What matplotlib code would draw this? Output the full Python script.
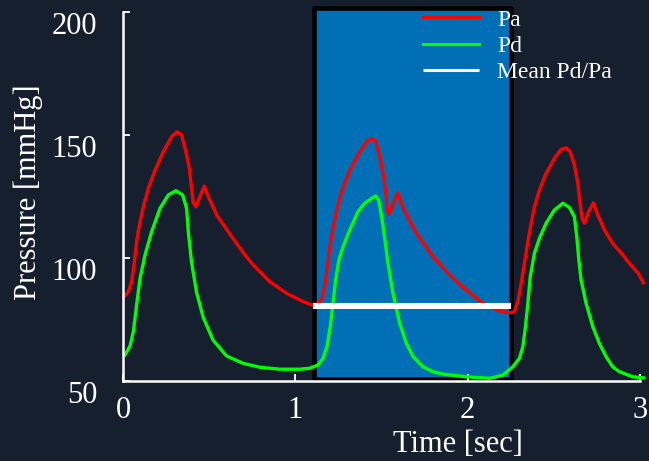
import matplotlib
matplotlib.use("Agg")
import matplotlib.pyplot as plt
from matplotlib.patches import Rectangle

# ---- data ----
pa_time = [0.006, 0.031, 0.050, 0.064, 0.079, 0.095, 0.118, 0.147, 0.186, 0.234, 0.282, 0.315,
           0.340, 0.365, 0.385, 0.398, 0.408, 0.423, 0.446, 0.472, 0.495, 0.544, 0.611, 0.708,
           0.756, 0.852, 0.949, 1.045, 1.100, 1.132, 1.155, 1.172, 1.186, 1.200, 1.217, 1.240,
           1.268, 1.316, 1.374, 1.414, 1.443, 1.468, 1.490, 1.513, 1.526, 1.533, 1.544, 1.565,
           1.594, 1.625, 1.666, 1.703, 1.799, 1.896, 1.992, 2.089, 2.166, 2.234, 2.253, 2.272,
           2.292, 2.311, 2.330, 2.350, 2.369, 2.388, 2.417, 2.456, 2.504, 2.543, 2.572, 2.595,
           2.620, 2.640, 2.653, 2.665, 2.678, 2.703, 2.730, 2.756, 2.795, 2.842, 2.894, 2.939,
           2.991, 3.020]
pa_values = [84.3, 86.3, 90.4, 97.2, 106.7, 113.5, 120.9, 128.4, 135.8, 143.3, 149.4, 151.4,
             150.1, 143.3, 136.5, 128.4, 122.3, 120.9, 125.0, 129.3, 125.0, 117.5, 110.7, 101.3,
             97.2, 90.4, 85.7, 82.3, 80.8, 81.6, 83.6, 89.1, 96.5, 104.6, 111.4, 119.6,
             127.0, 135.8, 143.3, 147.4, 148.7, 147.4, 141.3, 133.1, 126.3, 120.2, 117.8, 121.6,
             126.4, 120.6, 114.8, 110.1, 100.6, 93.1, 87.0, 81.6, 78.9, 77.8, 77.8, 78.2,
             82.3, 89.7, 97.9, 106.7, 114.2, 120.9, 127.7, 134.5, 140.6, 144.2, 144.9, 143.3,
             137.9, 130.4, 122.3, 116.2, 114.2, 118.9, 122.5, 117.5, 111.4, 106.0, 101.9, 97.9,
             93.8, 90.0]

pd_time = [0.012, 0.041, 0.060, 0.079, 0.099, 0.128, 0.166, 0.215, 0.263, 0.307, 0.346, 0.369,
           0.379, 0.398, 0.427, 0.466, 0.523, 0.601, 0.697, 0.794, 0.910, 1.026, 1.084, 1.132,
           1.161, 1.184, 1.203, 1.219, 1.234, 1.253, 1.277, 1.316, 1.364, 1.403, 1.443, 1.467,
           1.484, 1.498, 1.513, 1.538, 1.567, 1.606, 1.645, 1.684, 1.741, 1.799, 1.857, 1.992,
           2.128, 2.205, 2.263, 2.301, 2.321, 2.336, 2.350, 2.364, 2.388, 2.417, 2.456, 2.504,
           2.553, 2.591, 2.620, 2.634, 2.646, 2.659, 2.688, 2.727, 2.765, 2.804, 2.842, 2.881,
           2.959, 3.020]
pd_values = [60.6, 64.3, 70.1, 80.9, 91.8, 101.3, 110.7, 120.3, 125.7, 127.4, 125.7, 120.3,
             110.7, 98.2, 86.0, 75.8, 66.6, 60.2, 57.2, 55.6, 54.8, 54.8, 55.2, 56.5,
             59.2, 64.0, 72.1, 81.6, 91.1, 99.2, 104.6, 111.4, 118.9, 122.3, 124.3, 125.3,
             123.6, 118.2, 111.4, 97.9, 85.7, 73.5, 65.3, 59.9, 55.8, 53.8, 52.8, 51.7,
             51.1, 52.4, 55.8, 59.2, 64.0, 72.1, 81.6, 92.4, 102.0, 108.0, 114.2, 119.6,
             122.3, 120.6, 116.8, 108.7, 99.2, 91.1, 81.6, 72.1, 65.3, 59.9, 55.8, 53.8,
             51.7, 51.3]

window_start = 1.10
window_end = 2.25
mean_level = 80.5

y_ticks = [50, 100, 150, 200]
x_ticks = [0, 1, 2, 3]

BG = "#161f2d"
FONT = ["Liberation Serif", "DejaVu Serif"]
plt.rcParams["font.family"] = FONT

fig = plt.figure(figsize=(6.49, 4.61), dpi=100, facecolor=BG)
ax = fig.add_axes([123 / 649, 80 / 461, 522 / 649, 368.7 / 461])
ax.set_facecolor(BG)

# highlighted window
rect = Rectangle((1.109, 50.9), 2.252 - 1.109, 201.6 - 50.9, facecolor="#006fb6",
                 edgecolor="black", linewidth=3.3, joinstyle="round", zorder=1, clip_on=False)
ax.add_patch(rect)

ax.plot(pa_time, pa_values, color="#ff0000", lw=2.4, label="Pa", zorder=3,
        solid_joinstyle="round", clip_on=False)
ax.plot(pd_time, pd_values, color="#00ff00", lw=2.4, label="Pd", zorder=3,
        solid_joinstyle="round", clip_on=False)
ax.plot([window_start, window_end], [mean_level, mean_level], color="white", lw=4.3,
        label="Mean Pd/Pa", zorder=4, solid_capstyle="butt")

ax.set_xlim(0, 3.03)
ax.set_ylim(50, 200)
ax.set_xticks(x_ticks)
ax.set_yticks(y_ticks)

for s in ["top", "right"]:
    ax.spines[s].set_visible(False)
for s in ["left", "bottom"]:
    ax.spines[s].set_color("white")
    ax.spines[s].set_linewidth(1.8)
    ax.spines[s].set_zorder(5)
ax.spines["bottom"].set_bounds(0, 3)
ax.spines["left"].set_bounds(50, 200)

ax.tick_params(axis="both", direction="in", length=5, width=1.3, colors="white",
               labelsize=22)
ax.tick_params(axis="y", pad=18.5)
ax.tick_params(axis="x", pad=11)
for lab in ax.get_yticklabels():
    lab.set_verticalalignment("top")

ax.set_xlabel("Time [sec]", fontsize=22, color="white")
ax.set_ylabel("Pressure [mmHg]", fontsize=22, color="white")
ax.xaxis.set_label_coords(0.642, -0.133)
ax.yaxis.set_label_coords(-0.153, 0.513)

leg = ax.legend(loc="upper left", bbox_to_anchor=(423 / 649, (461 - 9) / 461),
                bbox_transform=fig.transFigure, frameon=False, fontsize=17,
                borderpad=0, borderaxespad=0, handlelength=2.37, handletextpad=0.76,
                labelspacing=0.2, labelcolor="white")
for line in leg.get_lines():
    line.set_linewidth(2.2)

fig.savefig("out.png", dpi=100, facecolor=BG)
